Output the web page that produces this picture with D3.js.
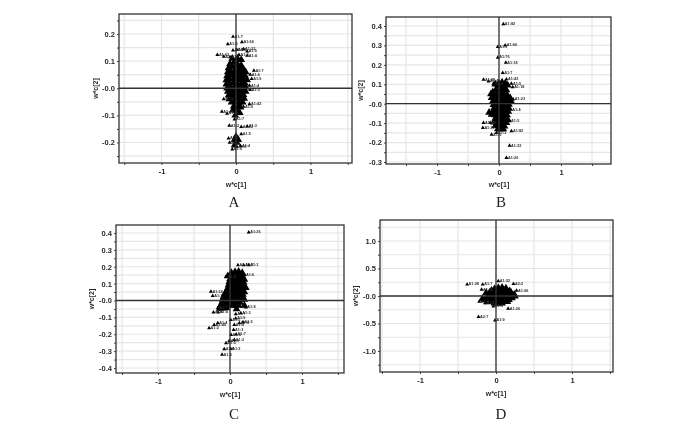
<!DOCTYPE html>
<html lang="en">
<head>
<meta charset="UTF-8">
<title>w*c loading plots</title>
<style>
  html, body { margin: 0; padding: 0; background: #fff; }
  svg { display: block; }
  text { font-family: "Liberation Sans", Arial, sans-serif; fill: #2a2a2a; }
  .letter { font-family: "Liberation Serif", serif; font-size: 15px; fill: #222; }
</style>
</head>
<body>
<svg id="chart" width="700" height="434">
  <defs>
    <filter id="soft" x="0" y="0" width="100%" height="100%">
      <feGaussianBlur stdDeviation="0.35"></feGaussianBlur>
    </filter>
  </defs>
</svg>
<script src="https://cdn.jsdelivr.net/npm/d3@7/dist/d3.min.js"></script>
<script>
// tick labels
var xTicks = [-1, 0, 1];
var yTicksA = [-0.2, -0.1, 0, 0.1, 0.2];
var yTicksB = [-0.3, -0.2, -0.1, 0, 0.1, 0.2, 0.3, 0.4];
var yTicksC = [-0.4, -0.3, -0.2, -0.1, 0, 0.1, 0.2, 0.3, 0.4];
var yTicksD = [-1, -0.5, 0, 0.5, 1];

// labelled outliers: [x, y, label]
var labelledA = [[-.04,.19,"A1:7"],[-.11,.163,"A1:8"],[.08,.17,"A1:66"],[-.04,.14,"A2:4"],[.01,.142,"A1:5"],[.10,.144,"A1:32"],[-.25,.123,"A1:62"],[-.165,.117,"A1:2"],[.15,.136,"A1:5"],[.04,.123,"A1:3"],[.15,.12,"A1:4"],[-.08,.115,"A2:1"],[.24,.065,"A1:7"],[.19,.05,"A1:6"],[.21,.035,"A1:9"],[.18,.01,"A1:4"],[.19,-.006,"A1:3"],[.18,-.058,"A1:42"],[.10,-.068,"A1:5"],[-.19,-.086,"A1:46"],[-.12,-.093,"A1:8"],[-.165,-.04,"A1:3"],[-.02,-.115,"A1:7"],[-.09,-.138,"A1:2"],[.07,-.142,"A1:22"],[.15,-.14,"A1:3"],[.07,-.169,"A1:5"],[-.10,-.185,"A2:1"],[-.085,-.2,"A1:9"],[-.05,-.225,"A1:6"],[.01,-.216,"A1:8"],[.06,-.212,"A1:4"]];
var labelledB = [[.07,.41,"A1:82"],[-.02,.293,"A1:3"],[.10,.30,"A1:66"],[-.02,.238,"A1:76"],[.11,.212,"A1:18"],[.06,.159,"A1:7"],[-.25,.124,"A1:25"],[-.17,.115,"A1:4"],[-.09,.104,"A1:6"],[.12,.126,"A1:42"],[.20,.104,"A1:5"],[.22,.086,"A1:18"],[.23,.022,"A1:23"],[.19,-.03,"A1:4"],[.17,-.09,"A1:5"],[-.25,-.098,"A1:26"],[-.14,-.098,"A1:8"],[-.26,-.124,"A1:28"],[-.12,-.159,"A1:5"],[-.04,-.15,"A1:3"],[.20,-.141,"A1:82"],[.17,-.216,"A1:22"],[.12,-.279,"A1:26"]];
var labelledC = [[.26,.404,"A1:26"],[.11,.21,"A1:2"],[.19,.21,"A1:5"],[.26,.21,"A1:3"],[-.055,.142,"A1:8"],[.20,.15,"A1:6"],[-.265,.053,"A1:24"],[-.24,.028,"A1:3"],[-.23,-.07,"A1:6"],[-.165,-.07,"A1:4"],[-.17,-.045,"A1:7"],[.22,-.04,"A1:8"],[-.29,-.164,"A1:2"],[-.22,-.144,"A1:46"],[-.17,-.134,"A1:4"],[.08,-.08,"A1:7"],[.15,-.075,"A1:3"],[.01,-.114,"A1:5"],[.08,-.105,"A1:9"],[.06,-.144,"A1:8"],[.13,-.134,"A1:6"],[.18,-.128,"A1:2"],[.05,-.174,"A1:3"],[.015,-.203,"A1:4"],[.085,-.2,"A1:7"],[-.055,-.252,"A1:5"],[-.01,-.239,"A1:9"],[.06,-.233,"A1:2"],[-.08,-.288,"A1:8"],[.01,-.286,"A1:3"],[-.11,-.32,"A1:6"]];
var labelledD = [[-.38,.21,"A1:28"],[-.175,.21,"A1:7"],[.03,.27,"A1:22"],[.23,.22,"A2:2"],[-.19,.117,"A1:26"],[.27,.1,"A1:66"],[-.22,-.1,"A1:4"],[-.145,-.13,"A1:5"],[.16,-.23,"A1:26"],[-.23,-.377,"A2:7"],[-.013,-.444,"A1:9"],[-.035,-.19,"A1:3"]];

// dense cores, unlabelled: [x, y]
var coreA = [[-.08,.09],[-.03,.095],[.02,.09],[.07,.085],[-.1,.075],[-.05,.078],[0,.08],[.05,.075],[.1,.07],[-.11,.06],[-.07,.062],[-.02,.065],[.03,.06],[.08,.058],[.13,.06],[-.12,.045],[-.08,.048],[-.03,.05],[.02,.046],[.07,.044],[.12,.047],[-.13,.03],[-.09,.033],[-.04,.035],[.01,.032],[.06,.03],[.11,.033],[.15,.03],[-.13,.015],[-.08,.018],[-.03,.02],[.02,.017],[.07,.016],[.12,.018],[-.12,0],[-.07,.004],[-.02,.005],[.03,.002],[.08,.003],[.13,.004],[-.11,-.012],[-.06,-.01],[-.01,-.008],[.04,-.012],[.09,-.01],[.13,-.012],[-.1,-.026],[-.05,-.024],[0,-.022],[.05,-.026],[.1,-.024],[-.09,-.04],[-.04,-.038],[.01,-.036],[.06,-.04],[.11,-.038],[-.06,-.052],[-.01,-.05],[.04,-.054],[.09,-.052],[-.03,-.066],[.02,-.068],[.06,-.07],[-.04,-.08],[.01,-.082],[.05,-.09],[-.01,-.1],[-.05,.11],[.02,.11],[.07,.105],[-.02,-.19],[.01,-.2],[.03,-.19],[-.02,-.21],[.0,-.178]];
var coreB = [[-.06,.1],[0,.105],[.05,.11],[.1,.105],[.14,.095],[-.02,.09],[.04,.09],[.09,.085],[-.1,.06],[-.05,.07],[.01,.07],[.06,.072],[.12,.07],[-.13,.05],[-.08,.048],[-.03,.05],[.03,.052],[.08,.05],[.13,.048],[-.12,.03],[-.07,.03],[-.02,.032],[.03,.03],[.08,.03],[.13,.03],[.18,.03],[-.1,.012],[-.05,.014],[0,.01],[.05,.012],[.1,.012],[.15,.014],[.2,.01],[-.09,-.005],[-.04,-.005],[.01,-.006],[.06,-.004],[.11,-.006],[.16,-.004],[-.08,-.022],[-.03,-.02],[.02,-.024],[.07,-.022],[.12,-.02],[.16,-.024],[-.09,-.04],[-.04,-.04],[.01,-.042],[.06,-.04],[.11,-.042],[.15,-.04],[-.16,-.045],[-.12,-.055],[-.07,-.058],[-.02,-.06],[.03,-.058],[.08,-.06],[.13,-.058],[-.06,-.076],[-.01,-.078],[.04,-.076],[.09,-.078],[.14,-.08],[-.08,-.095],[-.03,-.096],[.02,-.094],[.07,-.096],[.12,-.098],[-.06,-.114],[-.01,-.112],[.04,-.114],[.09,-.116],[-.02,-.13],[.03,-.132],[.07,-.13]];
var coreC = [[.02,.165],[.07,.17],[.12,.172],[.17,.165],[-.03,.145],[.02,.15],[.07,.15],[.12,.152],[.17,.145],[.0,.128],[.05,.13],[.1,.13],[.15,.128],[.2,.125],[-.01,.11],[.04,.112],[.09,.112],[.14,.11],[.19,.108],[-.02,.092],[.03,.094],[.08,.094],[.13,.092],[.18,.09],[-.03,.074],[.02,.076],[.07,.076],[.12,.074],[.17,.072],[.22,.075],[-.05,.056],[0,.058],[.05,.058],[.1,.056],[.15,.054],[.2,.05],[-.07,.04],[-.02,.04],[.03,.04],[.08,.04],[.13,.038],[.18,.035],[-.09,.022],[-.04,.024],[.01,.022],[.06,.022],[.11,.02],[.16,.02],[-.1,.006],[-.05,.006],[0,.004],[.05,.006],[.1,.004],[.15,.004],[.2,.006],[-.11,-.01],[-.06,-.01],[-.01,-.012],[.04,-.01],[.09,-.012],[.14,-.012],[-.13,-.028],[-.08,-.028],[-.03,-.03],[.02,-.03],[.07,-.03],[.12,-.03],[-.14,-.048],[-.1,-.046],[-.05,-.044],[.2,-.03],[.09,-.05]];
var coreD = [[-.02,.13],[.03,.15],[.08,.155],[.13,.14],[-.06,.1],[-.01,.11],[.04,.115],[.09,.115],[.14,.11],[.18,.09],[-.08,.07],[-.04,.075],[.01,.08],[.06,.08],[.11,.08],[.16,.075],[.2,.06],[-.09,.04],[-.05,.04],[0,.045],[.05,.045],[.1,.045],[.15,.04],[.2,.035],[.24,.03],[-.09,.005],[-.05,.005],[0,.01],[.05,.01],[.1,.01],[.15,.005],[.2,0],[.25,-.005],[-.08,-.03],[-.04,-.03],[.01,-.025],[.06,-.025],[.11,-.03],[.16,-.03],[.21,-.035],[-.07,-.065],[-.03,-.065],[.02,-.06],[.07,-.06],[.12,-.065],[.17,-.07],[-.05,-.1],[0,-.095],[.05,-.095],[.1,-.1],[.15,-.105],[-.02,-.13],[.03,-.135],[.08,-.13],[-.12,-.04],[-.15,-.07],[-.18,-.05],[-.1,-.11],[-.13,.06]];

var panels = [
  { name: "A", left: 119, right: 352, top: 14, bottom: 163, x0: 161.5, x1: 310.5, yFrom: 0.2, yPxFrom: 34, yTo: -0.2, yPxTo: 142.5, yTicks: yTicksA, yStep: 0.05, points: coreA, labelled: labelledA, letterX: 234, letterY: 207, yLabelX: 98, xLabelY: 187 },
  { name: "B", left: 386, right: 611, top: 17, bottom: 164, x0: 437, x1: 561, yFrom: 0.4, yPxFrom: 26, yTo: -0.3, yPxTo: 162, yTicks: yTicksB, yStep: 0.05, points: coreB, labelled: labelledB, letterX: 501, letterY: 207, yLabelX: 363, xLabelY: 187 },
  { name: "C", left: 116, right: 344, top: 225, bottom: 373, x0: 158, x1: 302, yFrom: 0.4, yPxFrom: 233, yTo: -0.4, yPxTo: 368, yTicks: yTicksC, yStep: 0.05, points: coreC, labelled: labelledC, letterX: 234, letterY: 419, yLabelX: 94, xLabelY: 397 },
  { name: "D", left: 380, right: 613, top: 220, bottom: 372, x0: 420, x1: 572, yFrom: 1, yPxFrom: 241, yTo: -1, yPxTo: 351, yTicks: yTicksD, yStep: 0.25, points: coreD, labelled: labelledD, letterX: 501, letterY: 419, yLabelX: 358, xLabelY: 396 }
];

var svg = d3.select("#chart");
var root = svg.append("g").attr("filter", "url(#soft)");
root.append("rect").attr("width", 700).attr("height", 434).attr("fill", "#fff");

panels.forEach(function(p) {
  var x = d3.scaleLinear().domain([-1, 1]).range([p.x0, p.x1]);
  var y = d3.scaleLinear().domain([p.yTo, p.yFrom]).range([p.yPxTo, p.yPxFrom]);
  var g = root.append("g").attr("class", "panel-" + p.name);

  var xDomain = [x.invert(p.left), x.invert(p.right)];
  var yDomain = [y.invert(p.bottom), y.invert(p.top)];
  var xGrid = d3.range(Math.ceil(xDomain[0] * 2) / 2, xDomain[1], 0.5);
  var yGrid = d3.range(Math.ceil(yDomain[0] / p.yStep) * p.yStep, yDomain[1], p.yStep);

  // grid
  g.selectAll(".gx").data(xGrid).enter().append("line")
    .attr("x1", x).attr("x2", x).attr("y1", p.top).attr("y2", p.bottom)
    .attr("stroke", "#e6e6e6").attr("stroke-width", 1.2);
  g.selectAll(".gy").data(yGrid).enter().append("line")
    .attr("y1", y).attr("y2", y).attr("x1", p.left).attr("x2", p.right)
    .attr("stroke", "#e6e6e6").attr("stroke-width", 1.2);

  // axes
  var xAxis = d3.axisBottom(x).tickValues(xGrid).tickSize(2)
    .tickFormat(function(d) { return xTicks.indexOf(d) >= 0 ? String(d) : ""; });
  var ax = g.append("g").attr("transform", "translate(0," + p.bottom + ")").call(xAxis);
  var yAxis = d3.axisLeft(y).tickValues(yGrid).tickSize(2)
    .tickFormat(function(d) {
      var hit = p.yTicks.filter(function(t) { return Math.abs(t - d) < 1e-6; });
      if (!hit.length) return "";
      return hit[0] === 0 ? "-0.0" : hit[0].toFixed(1);
    });
  var ay = g.append("g").attr("transform", "translate(" + p.left + ",0)").call(yAxis);
  [ax, ay].forEach(function(a) {
    a.select(".domain").remove();
    a.selectAll("line").attr("stroke", "#444");
    a.selectAll("text").attr("font-size", 7.5).attr("font-family", "Liberation Sans").attr("fill", "#222").attr("font-weight", 700);
  });
  ax.selectAll("text").attr("y", 6);
  ay.selectAll("text").attr("x", -4);

  // points
  var marks = g.append("g");
  marks.selectAll(".core").data(p.points).enter().append("path")
    .attr("d", d3.symbol().type(d3.symbolTriangle).size(26)())
    .attr("transform", function(d) { return "translate(" + x(d[0]) + "," + y(d[1]) + ")"; })
    .attr("fill", "#000");
  marks.selectAll(".lab").data(p.labelled).enter().append("path")
    .attr("d", d3.symbol().type(d3.symbolTriangle).size(7)())
    .attr("transform", function(d) { return "translate(" + x(d[0]) + "," + y(d[1]) + ")"; })
    .attr("fill", "#000");
  marks.selectAll(".labtext").data(p.labelled).enter().append("text")
    .attr("x", function(d) { return x(d[0]) + 1.5; })
    .attr("y", function(d) { return y(d[1]) + 1; })
    .attr("font-size", 3.8).attr("font-weight", 700).attr("fill", "#111")
    .text(function(d) { return d[2]; });

  // zero lines and frame
  g.append("line").attr("x1", x(0)).attr("x2", x(0)).attr("y1", p.top).attr("y2", p.bottom)
    .attr("stroke", "#333").attr("stroke-width", 1.3);
  g.append("line").attr("x1", p.left).attr("x2", p.right).attr("y1", y(0)).attr("y2", y(0))
    .attr("stroke", "#333").attr("stroke-width", 1.3);
  g.append("rect").attr("x", p.left).attr("y", p.top)
    .attr("width", p.right - p.left).attr("height", p.bottom - p.top)
    .attr("fill", "none").attr("stroke", "#333").attr("stroke-width", 1.3);

  // titles
  g.append("text").attr("x", x(0)).attr("y", p.xLabelY).attr("text-anchor", "middle")
    .attr("font-size", 7).attr("font-weight", 700).text("w*c[1]");
  g.append("text").attr("transform", "translate(" + p.yLabelX + "," + ((p.top + p.bottom) / 2) + ") rotate(-90)")
    .attr("text-anchor", "middle").attr("font-size", 7).attr("font-weight", 700).text("w*c[2]");
  g.append("text").attr("class", "letter").attr("x", p.letterX).attr("y", p.letterY)
    .attr("text-anchor", "middle").text(p.name);
});
</script>
</body>
</html>
